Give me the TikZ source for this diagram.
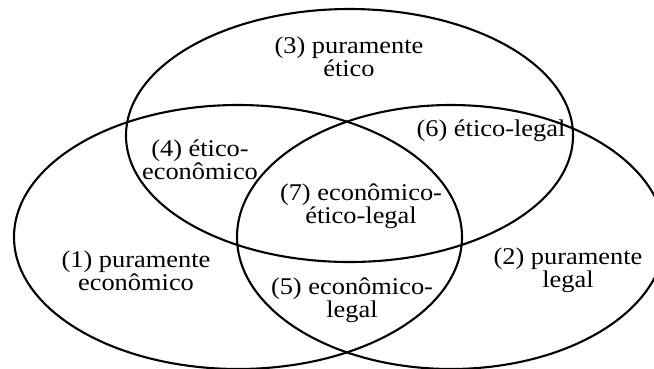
\documentclass[tikz,border=0pt]{standalone}
\usepackage{fontspec}
\setmainfont{Liberation Serif}[FakeStretch=1.1]
\begin{document}
\begin{tikzpicture}[x=1pt,y=-1pt,
  ell/.style={draw=black,line width=2.1pt},
  lbl/.style={align=center,inner sep=0pt,font=\fontsize{24}{20.5}\selectfont}]
\useasboundingbox (0,0) rectangle (654,368);
\clip (0,0) rectangle (654,368);
\draw[ell] (238,237) ellipse [x radius=224, y radius=132];
\draw[ell] (451,237) ellipse [x radius=214, y radius=132];
\draw[ell] (349.5,135.5) ellipse [x radius=223.5, y radius=126.5];
\node[lbl] (n3) at (349,57) {(3) puramente\\ético};
\node[lbl] (n4) at (200,160) {(4) ético-\\econômico};
\node[lbl] (n6) at (491,131) {(6) ético-legal};
\node[lbl] (n7) at (361,206) {(7) econômico-\\ético-legal};
\node[lbl] (n1) at (136,271) {(1) puramente\\econômico};
\node[lbl] (n2) at (568,270) {(2) puramente\\legal};
\node[lbl] (n5) at (352,300) {(5) econômico-\\legal};
\end{tikzpicture}
\end{document}
